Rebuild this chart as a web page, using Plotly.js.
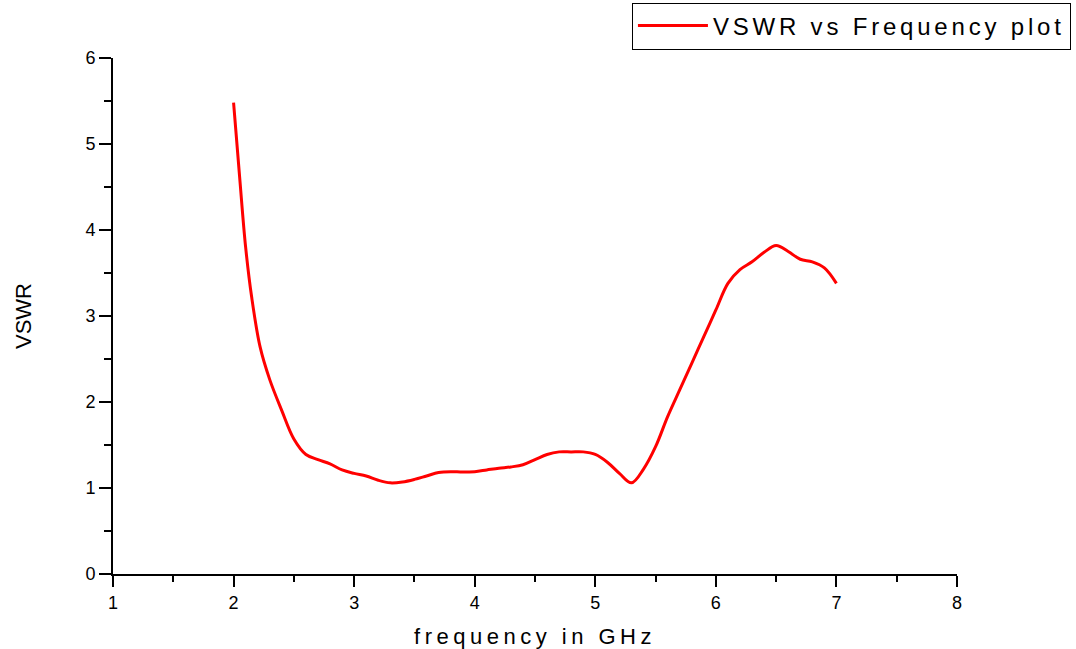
<!DOCTYPE html>
<html>
<head>
<meta charset="utf-8">
<script src="https://cdn.plot.ly/plotly-3.0.1.min.js"></script>
<style>
  html, body { margin: 0; padding: 0; background: #fff; }
  #chart { width: 1076px; height: 649px; }
  .legendtext { letter-spacing: 3.8px; }
  .xtitle { letter-spacing: 4.5px; }
</style>
</head>
<body>
<div id="chart"></div>
<script>
const freq = [2.0, 2.05, 2.1, 2.15, 2.22, 2.3, 2.4, 2.5, 2.6, 2.7, 2.8, 2.9, 3.0, 3.1, 3.2, 3.3, 3.4, 3.5, 3.6, 3.7, 3.8, 3.9, 4.0, 4.1, 4.2, 4.3, 4.4, 4.5, 4.6, 4.7, 4.8, 4.9, 5.0, 5.1, 5.2, 5.3, 5.4, 5.5, 5.6, 5.7, 5.8, 5.9, 6.0, 6.1, 6.2, 6.3, 6.4, 6.5, 6.6, 6.7, 6.8, 6.9, 7.0];
const vswr = [5.48, 4.62, 3.80, 3.22, 2.64, 2.26, 1.90, 1.57, 1.39, 1.33, 1.28, 1.21, 1.17, 1.14, 1.09, 1.06, 1.07, 1.10, 1.14, 1.18, 1.19, 1.185, 1.19, 1.21, 1.23, 1.245, 1.27, 1.33, 1.39, 1.42, 1.42, 1.42, 1.39, 1.30, 1.17, 1.06, 1.22, 1.48, 1.83, 2.14, 2.45, 2.76, 3.07, 3.38, 3.54, 3.63, 3.74, 3.82, 3.75, 3.66, 3.63, 3.56, 3.38];
const seriesName = "VSWR vs Frequency plot";
const xTitle = "frequency in GHz";
const yTitle = "VSWR";

const font = "Liberation Sans, Arial, sans-serif";
const trace = {
  x: freq, y: vswr, type: "scatter", mode: "lines", name: seriesName,
  line: { color: "#ff0000", width: 3, shape: "spline", smoothing: 1 },
  showlegend: true
};
const layout = {
  width: 1076, height: 649,
  margin: { l: 113, r: 119, t: 58, b: 75, autoexpand: false },
  paper_bgcolor: "#fff", plot_bgcolor: "#fff",
  showlegend: true,
  font: { family: font, color: "#000" },
  legend: {
    x: 1.135, y: 1.062, xanchor: "right", yanchor: "middle",
    bordercolor: "#000", borderwidth: 1, bgcolor: "#fff",
    font: { family: font, size: 24, color: "#000" },
    itemwidth: 70
  },
  xaxis: {
    range: [1, 8], dtick: 1, tick0: 1,
    showline: true, linecolor: "#000", linewidth: 2,
    showgrid: false, zeroline: false,
    ticks: "outside", ticklen: 11, tickwidth: 2, tickcolor: "#000",
    minor: { dtick: 0.5, ticks: "outside", ticklen: 6, tickwidth: 2, tickcolor: "#000", showgrid: false },
    tickfont: { family: font, size: 18, color: "#000" },
    title: { text: xTitle, font: { family: font, size: 22, color: "#000" }, standoff: 18 }
  },
  yaxis: {
    range: [0, 6], dtick: 1,
    showline: true, linecolor: "#000", linewidth: 2,
    showgrid: false, zeroline: false,
    ticks: "outside", ticklen: 12, tickwidth: 2, tickcolor: "#000",
    minor: { dtick: 0.5, ticks: "outside", ticklen: 7, tickwidth: 2, tickcolor: "#000", showgrid: false },
    tickfont: { family: font, size: 18, color: "#000" },
    title: { text: yTitle, font: { family: font, size: 22, color: "#000" }, standoff: 48 }
  }
};
Plotly.newPlot("chart", [trace], layout, { displayModeBar: false, staticPlot: true });
</script>
</body>
</html>
